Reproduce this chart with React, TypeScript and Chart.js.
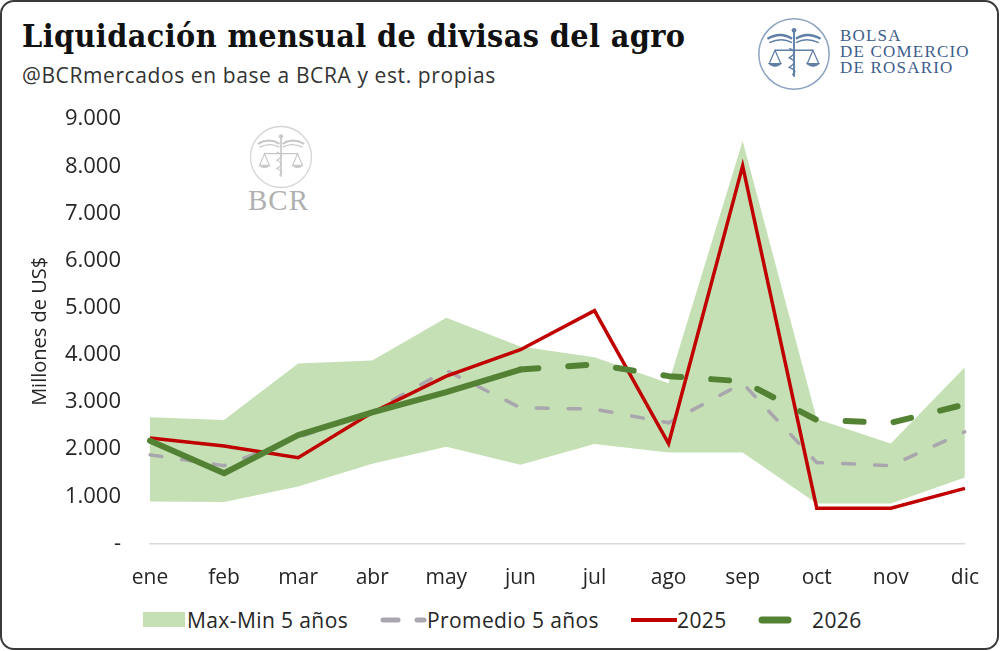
import { useEffect, useRef } from "react";
import { Chart, registerables, type ScriptableLineSegmentContext } from "chart.js";

Chart.register(...registerables);

const MONTHS = ["ene", "feb", "mar", "abr", "may", "jun", "jul", "ago", "sep", "oct", "nov", "dic"];

// Millones de US$
const BAND_MAX = [2680, 2620, 3820, 3880, 4790, 4180, 3950, 3400, 8540, 2640, 2120, 3740];
const BAND_MIN = [890, 880, 1210, 1690, 2050, 1670, 2110, 1930, 1930, 850, 850, 1400];
const AVG_5Y = [1880, 1650, 2250, 2800, 3670, 2880, 2850, 2560, 3400, 1720, 1650, 2370];
const Y2025 = [2240, 2070, 1820, 2780, 3550, 4110, 4940, 2120, 8010, 750, 750, 1170];
const Y2026 = [2180, 1490, 2300, 2780, 3210, 3690, 3800, 3550, 3440, 2620, 2560, 2950];

const Y_MAX = 9000;
const Y_STEP = 1000;
const PROJ_FROM = 5; // 2026 dashed from jun

const BAND = "#c5e0b4";
const GRAY = "#a9a6ad";
const RED = "#c00000";
const GREEN = "#548235";
const TEXT = "#262626";
const SANS = "'Open Sans', sans-serif";

function fmtTick(v: number) {
  if (v === 0) return "-";
  return `${v / 1000}.000`;
}

function Emblem({ size, color, ring }: { size: number; color: string; ring: string }) {
  return (
    <svg width={size} height={size} viewBox="0 0 80 80">
      <circle cx="40" cy="40" r="37" fill="none" stroke={ring} strokeWidth="1.6" />
      <path d="M12 24 Q26 16 38 24 M42 24 Q54 16 68 24" fill="none" stroke={color} strokeWidth="2.5" />
      <path d="M14 28 Q27 22 38 28 M42 28 Q53 22 66 28" fill="none" stroke={color} strokeWidth="1.5" />
      <line x1="40" y1="14" x2="40" y2="64" stroke={color} strokeWidth="2" />
      <circle cx="40" cy="15" r="2.5" fill={color} />
      <path d="M35 34 Q45 38 35 44 Q45 48 35 54 Q45 58 38 62" fill="none" stroke={color} strokeWidth="1.4" />
      <line x1="20" y1="36" x2="60" y2="36" stroke={color} strokeWidth="1.5" />
      <path d="M20 36 L14 50 L26 50 Z M60 36 L54 50 L66 50 Z" fill="none" stroke={color} strokeWidth="1.3" />
      <path d="M13 50 Q20 56 27 50 M53 50 Q60 56 67 50" fill={color} stroke={color} strokeWidth="1" />
    </svg>
  );
}

function LineChart() {
  const canvasRef = useRef<HTMLCanvasElement>(null);
  const chartRef = useRef<Chart | null>(null);

  useEffect(() => {
    if (!canvasRef.current) return;
    chartRef.current?.destroy();

    chartRef.current = new Chart(canvasRef.current, {
      type: "line",
      data: {
        labels: MONTHS,
        datasets: [
          {
            label: "Max-Min 5 años",
            data: BAND_MAX,
            borderWidth: 0,
            pointRadius: 0,
            backgroundColor: BAND,
            fill: "+1",
            order: 5,
          },
          {
            label: "min",
            data: BAND_MIN,
            borderWidth: 0,
            pointRadius: 0,
            fill: false,
            order: 4,
          },
          {
            label: "Promedio 5 años",
            data: AVG_5Y,
            borderColor: GRAY,
            borderWidth: 3.5,
            borderDash: [12, 20],
            borderCapStyle: "round",
            pointRadius: 0,
            fill: false,
            order: 3,
          },
          {
            label: "2025",
            data: Y2025,
            borderColor: RED,
            borderWidth: 3.5,
            pointRadius: 0,
            fill: false,
            order: 2,
          },
          {
            label: "2026",
            data: Y2026,
            borderColor: GREEN,
            borderWidth: 6,
            borderCapStyle: "round",
            borderJoinStyle: "round",
            pointRadius: 0,
            fill: false,
            order: 1,
            segment: {
              borderDash: (ctx: ScriptableLineSegmentContext) =>
                ctx.p0DataIndex >= PROJ_FROM ? [18, 30] : undefined,
            },
          },
        ],
      },
      options: {
        animation: false,
        responsive: true,
        maintainAspectRatio: false,
        layout: { padding: { top: 16, right: 24, left: 0, bottom: 0 } },
        plugins: { legend: { display: false }, tooltip: { enabled: false } },
        scales: {
          x: {
            grid: { display: false, drawTicks: false },
            border: { display: true, color: "#d9d9d9", width: 1.5 },
            ticks: {
              color: TEXT,
              font: { family: SANS, size: 21 },
              padding: 22,
              maxRotation: 0,
              autoSkip: false,
            },
            afterFit: (s) => {
              s.height = 56.5;
            },
          },
          y: {
            min: 0,
            max: Y_MAX,
            grid: { display: false, drawTicks: false },
            border: { display: false },
            ticks: {
              stepSize: Y_STEP,
              color: TEXT,
              font: { family: SANS, size: 22 },
              padding: 29,
              callback: (v) => fmtTick(Number(v)),
            },
            title: {
              display: true,
              text: "Millones de US$",
              color: TEXT,
              font: { family: SANS, size: 20 },
              padding: { top: 8, bottom: 0 },
            },
            afterFit: (s) => {
              s.width = 130;
            },
          },
        },
      },
    });

    return () => {
      chartRef.current?.destroy();
      chartRef.current = null;
    };
  }, []);

  return (
    <div style={{ position: "absolute", left: 20, top: 77, width: 981, height: 523 }}>
      <canvas ref={canvasRef} />
    </div>
  );
}

function Legend() {
  const label = {
    position: "absolute" as const,
    top: 606,
    fontFamily: SANS,
    fontSize: 21,
    letterSpacing: 0.4,
    color: TEXT,
    lineHeight: "28px",
    whiteSpace: "nowrap" as const,
  };
  return (
    <>
      <div style={{ position: "absolute", left: 143, top: 612, width: 42, height: 15, background: BAND }} />
      <div style={{ ...label, left: 187 }}>Max-Min 5 años</div>
      <svg style={{ position: "absolute", left: 378, top: 610 }} width={50} height={20}>
        <line x1="5" y1="10" x2="20" y2="10" stroke={GRAY} strokeWidth="5" strokeLinecap="round" />
        <line x1="39" y1="10" x2="46" y2="10" stroke={GRAY} strokeWidth="5" strokeLinecap="round" />
      </svg>
      <div style={{ ...label, left: 427 }}>Promedio 5 años</div>
      <svg style={{ position: "absolute", left: 629, top: 610 }} width={50} height={20}>
        <line x1="2" y1="10" x2="48" y2="10" stroke={RED} strokeWidth="4" />
      </svg>
      <div style={{ ...label, left: 677 }}>2025</div>
      <svg style={{ position: "absolute", left: 756, top: 610 }} width={40} height={20}>
        <line x1="6" y1="10" x2="32" y2="10" stroke={GREEN} strokeWidth="7" strokeLinecap="round" />
      </svg>
      <div style={{ ...label, left: 812 }}>2026</div>
    </>
  );
}

export default function App() {
  return (
    <div style={{ position: "fixed", left: 0, top: 0, width: 1000, height: 651, background: "#fff", overflow: "hidden" }}>
      <div
        style={{
          position: "absolute",
          left: 0,
          top: 0,
          width: 999,
          height: 650,
          boxSizing: "border-box",
          border: "2px solid #3a3a3a",
          borderRadius: 14,
        }}
      />
      <div
        style={{
          position: "absolute",
          left: 22,
          top: 17,
          fontFamily: "'DejaVu Serif Condensed', 'DejaVu Serif', serif",
          fontStretch: "condensed",
          fontWeight: 700,
          fontSize: 32,
          lineHeight: "38px",
          color: "#111",
          whiteSpace: "nowrap",
          letterSpacing: 0.4,
        }}
      >
        Liquidación mensual de divisas del agro
      </div>
      <div
        style={{
          position: "absolute",
          left: 22,
          top: 61,
          fontFamily: SANS,
          fontSize: 21,
          letterSpacing: 0.6,
          lineHeight: "28px",
          color: "#333",
          whiteSpace: "nowrap",
        }}
      >
        @BCRmercados en base a BCRA y est. propias
      </div>

      {/* logo */}
      <div style={{ position: "absolute", left: 756, top: 16 }}>
        <Emblem size={76} color="#5f7fa6" ring="#8ea4c0" />
      </div>
      <div
        style={{
          position: "absolute",
          left: 840,
          top: 28,
          fontFamily: "'Liberation Serif', serif",
          fontSize: 17,
          letterSpacing: 1.2,
          lineHeight: "16px",
          color: "#3d5d8c",
          whiteSpace: "nowrap",
        }}
      >
        BOLSA
        <br />
        DE COMERCIO
        <br />
        DE ROSARIO
      </div>

      {/* watermark */}
      <div style={{ position: "absolute", left: 248, top: 124, opacity: 0.55 }}>
        <Emblem size={66} color="#9a9a9a" ring="#b5b5b5" />
      </div>
      <div
        style={{
          position: "absolute",
          left: 248,
          top: 185,
          fontFamily: "'Liberation Serif', serif",
          fontSize: 29,
          lineHeight: "30px",
          color: "#b0b0b0",
          letterSpacing: 1,
        }}
      >
        BCR
      </div>

      <LineChart />
      <Legend />
    </div>
  );
}
